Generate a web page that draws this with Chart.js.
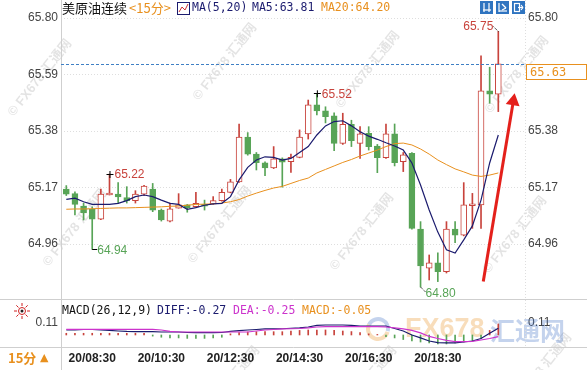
<!DOCTYPE html>
<html>
<head>
<meta charset="utf-8">
<script src="https://cdn.jsdelivr.net/npm/chart.js@4.4.0/dist/chart.umd.min.js"></script>
<style>
  html, body { margin: 0; padding: 0; background: #fff; }
  #wrap { width: 587px; height: 370px; position: relative; }
</style>
</head>
<body>
<div id="wrap"><canvas id="kline" width="587" height="370"></canvas></div>
<script>
// 15 minute bars
var times = ['20/07:45','20/08:00','20/08:15','20/08:30','20/08:45','20/09:00','20/09:15','20/09:30','20/09:45','20/10:00',
  '20/10:15','20/10:30','20/10:45','20/11:00','20/11:15','20/11:30','20/11:45','20/12:00','20/12:15','20/12:30',
  '20/12:45','20/13:00','20/13:15','20/13:30','20/13:45','20/14:00','20/14:15','20/14:30','20/14:45','20/15:00',
  '20/15:15','20/15:30','20/15:45','20/16:00','20/16:15','20/16:30','20/16:45','20/17:00','20/17:15','20/17:30',
  '20/17:45','20/18:00','20/18:15','20/18:30','20/18:45','20/19:00','20/19:15','20/19:30','20/19:45','20/20:00','20/20:15'];
var opens = [65.164,65.147,65.101,65.089,65.052,65.142,65.145,65.132,65.121,65.145,
  65.164,65.086,65.045,65.093,65.105,65.099,65.106,65.109,65.121,65.152,
  65.191,65.357,65.294,65.262,65.243,65.276,65.266,65.282,65.369,65.477,
  65.455,65.436,65.334,65.405,65.334,65.371,65.324,65.281,65.369,65.266,
  65.297,65.015,64.870,64.890,64.857,65.015,64.993,65.102,65.105,65.529,65.517];
var highs = [65.177,65.154,65.112,65.098,65.164,65.220,65.188,65.173,65.158,65.178,
  65.185,65.090,65.112,65.147,65.107,65.152,65.123,65.136,65.164,65.200,
  65.406,65.374,65.300,65.265,65.322,65.280,65.294,65.384,65.495,65.520,
  65.470,65.447,65.446,65.420,65.396,65.396,65.330,65.406,65.406,65.300,
  65.300,65.043,64.919,64.927,65.043,65.043,65.188,65.148,65.659,65.617,65.750];
var lows = [65.140,65.068,65.049,64.940,65.050,65.142,65.112,65.112,65.112,65.140,
  65.080,65.045,65.042,65.093,65.078,65.097,65.086,65.107,65.119,65.150,
  65.189,65.290,65.235,65.214,65.240,65.171,65.226,65.280,65.350,65.440,
  65.410,65.307,65.330,65.322,65.278,65.309,65.225,65.278,65.250,65.229,
  65.015,64.800,64.826,64.820,64.852,64.965,64.990,65.018,65.018,65.483,65.452];
var closes = [65.145,65.107,65.075,65.052,65.145,65.147,65.135,65.121,65.145,65.175,
  65.086,65.049,65.091,65.105,65.095,65.111,65.100,65.121,65.152,65.191,
  65.357,65.294,65.262,65.243,65.276,65.264,65.282,65.357,65.477,65.455,
  65.433,65.334,65.405,65.344,65.369,65.322,65.281,65.369,65.262,65.291,
  65.018,64.878,64.890,64.857,65.015,64.993,65.105,65.105,65.529,65.517,65.630];
var ma5 = [65.126,65.130,65.117,65.107,65.107,65.107,65.111,65.121,65.136,65.142,
  65.136,65.123,65.111,65.107,65.089,65.095,65.104,65.109,65.111,65.136,
  65.198,65.245,65.272,65.284,65.282,65.272,65.278,65.300,65.322,65.365,
  65.399,65.415,65.418,65.399,65.377,65.361,65.349,65.336,65.324,65.309,
  65.261,65.179,65.086,65.004,64.938,64.926,64.975,65.027,65.123,65.261,65.365];
var ma20 = [65.089,65.090,65.090,65.091,65.092,65.093,65.094,65.094,65.095,65.096,
  65.097,65.098,65.100,65.101,65.104,65.107,65.108,65.109,65.112,65.117,
  65.125,65.138,65.149,65.159,65.168,65.174,65.185,65.196,65.205,65.224,
  65.237,65.250,65.263,65.274,65.287,65.298,65.309,65.322,65.333,65.335,
  65.328,65.313,65.294,65.272,65.255,65.239,65.228,65.216,65.211,65.216,65.224];
var diff = [0.044,0.044,0.048,0.048,0.044,0.040,0.035,0.031,0.029,0.029,
  0.029,0.026,0.026,0.026,0.022,0.020,0.020,0.020,0.022,0.031,
  0.038,0.044,0.048,0.053,0.053,0.055,0.059,0.062,0.070,0.084,
  0.088,0.088,0.088,0.084,0.079,0.079,0.079,0.079,0.057,0.035,
  0.000,-0.026,-0.053,-0.068,-0.070,-0.070,-0.062,-0.053,-0.031,0.015,0.059];
var dea = [0.050,0.050,0.050,0.050,0.050,0.050,0.050,0.050,0.050,0.050,
  0.050,0.044,0.031,0.026,0.026,0.026,0.026,0.026,0.026,0.026,
  0.026,0.026,0.035,0.044,0.048,0.053,0.055,0.057,0.062,0.070,
  0.073,0.073,0.073,0.073,0.073,0.073,0.073,0.070,0.062,0.053,
  0.040,0.018,-0.013,-0.031,-0.048,-0.059,-0.059,-0.057,-0.044,-0.031,-0.015];
var macdHist = [0.015,0.015,0.015,0.015,0.015,0.015,0.015,0.015,0.015,0.015,
  -0.010,-0.020,-0.026,-0.026,-0.030,-0.030,-0.030,-0.026,-0.020,0.010,
  0.020,0.026,0.029,0.029,0.029,0.029,0.035,0.040,0.044,0.044,
  0.044,0.040,0.035,0.030,0.020,0.010,0.005,-0.015,-0.026,-0.040,
  -0.053,-0.062,-0.070,-0.079,-0.079,-0.070,-0.062,-0.050,-0.030,0.040,0.097];

var priceTicks = [64.96, 65.17, 65.38, 65.59, 65.80];
var macdTicks = [0.11];
var timeTicks = ['20/08:30','20/10:30','20/12:30','20/14:30','20/16:30','20/18:30'];
var lastPrice = 65.63;
// high / low notes: candle index, price, text
var notes = [
  {i: 50, p: 65.75, text: '65.75', kind: 'hi', side: 'left'},
  {i: 29, p: 65.52, text: '65.52', kind: 'hi', side: 'right'},
  {i: 5,  p: 65.22, text: '65.22', kind: 'hi', side: 'right'},
  {i: 3,  p: 64.94, text: '64.94', kind: 'lo', side: 'right'},
  {i: 41, p: 64.80, text: '64.80', kind: 'lo', side: 'diag'}
];
var arrowFrom = [48.26, 64.82];
var arrowTo = [51.89, 65.52];
// watermark centres (page pixels)
var stamps = [[40, 78], [225, 62], [368, 70], [517, 75], [75, 228], [220, 225], [362, 232], [515, 235],
  [228, 385], [365, 385], [540, 372]];

var RED = '#c8433c';
var GREEN = '#58a457';
var NAVY = '#1b1b6e';
var ORANGE = '#e8901e';
var MAGENTA = '#cc33cc';

var up = closes.map((c, i) => c >= opens[i]);

function hline(ctx, x0, y0, x1, y1) {
  ctx.beginPath(); ctx.moveTo(x0, y0); ctx.lineTo(x1, y1); ctx.stroke();
}

var decor = {
  id: 'decor',
  beforeDatasetsDraw(chart) {
    var ctx = chart.ctx, a = chart.chartArea, sy = chart.scales.y;
    ctx.save();
    // watermarks
    ctx.textAlign = 'center'; ctx.textBaseline = 'middle';
    ctx.font = 'bold 13px "Liberation Sans", "Noto Sans CJK SC"';
    ctx.fillStyle = 'rgba(0,0,0,0.11)';
    stamps.forEach(s => {
      ctx.save();
      ctx.translate(s[0], s[1]);
      ctx.rotate(-0.9);
      ctx.fillText('© FX678 汇通网', 0, 0);
      ctx.restore();
    });
    // big logo in macd panel
    ctx.globalAlpha = 0.3;
    ctx.lineWidth = 4;
    ctx.strokeStyle = ORANGE;
    ctx.beginPath(); ctx.arc(378, 329, 10, 0.3, 3.6); ctx.stroke();
    ctx.strokeStyle = '#3b6cc4';
    ctx.beginPath(); ctx.arc(378, 329, 10, 3.6, 6.5); ctx.stroke();
    ctx.textAlign = 'left';
    ctx.font = 'bold 27px "Liberation Sans"';
    ctx.fillStyle = ORANGE;
    ctx.fillText('FX678', 405, 330);
    ctx.font = 'bold 25px "Noto Sans CJK SC"';
    ctx.fillStyle = '#3b6cc4';
    ctx.fillText('汇通网', 490, 330);
    ctx.globalAlpha = 1;

    ctx.strokeStyle = '#dedede';
    ctx.lineWidth = 1;
    ctx.setLineDash([1, 2]);
    priceTicks.forEach(p => {
      var y = Math.round(sy.getPixelForValue(p)) + 0.5;
      hline(ctx, a.left, y, a.right, y);
    });
    hline(ctx, a.right + 0.5, 0, a.right + 0.5, 347);
    ctx.setLineDash([]);
    ctx.strokeStyle = '#cfcfcf';
    hline(ctx, 61.5, 0, 61.5, 370);
    hline(ctx, 0, 299.5, 587, 299.5);
    hline(ctx, 0, 347.5, 587, 347.5);
    ctx.restore();
  },
  afterDraw(chart) {
    var ctx = chart.ctx, a = chart.chartArea;
    var sx = chart.scales.x, sy = chart.scales.y;
    ctx.save();
    ctx.textBaseline = 'middle';

    // header
    ctx.font = '13px "Noto Sans CJK SC"';
    ctx.fillStyle = '#111';
    ctx.fillText('美原油连续', 62, 8);
    ctx.fillStyle = ORANGE;
    ctx.fillText('<15分>', 129, 8);
    ctx.strokeStyle = NAVY; ctx.lineWidth = 1;
    ctx.strokeRect(177.5, 2.5, 12, 12);
    ctx.strokeStyle = '#d03030';
    ctx.beginPath(); ctx.moveTo(179, 12); ctx.lineTo(182, 7); ctx.lineTo(185, 10); ctx.lineTo(188, 4); ctx.stroke();
    ctx.font = '11.5px "DejaVu Sans Mono"';
    ctx.fillStyle = NAVY;
    ctx.fillText('MA(5,20)', 192, 8);
    ctx.fillText('MA5:63.81', 252, 8);
    ctx.fillStyle = ORANGE;
    ctx.fillText('MA20:64.20', 321, 8);

    // top right tool icons
    [480, 496, 512].forEach((x, k) => {
      ctx.fillStyle = '#2f74c0';
      ctx.fillRect(x, 1, 13, 13);
      ctx.strokeStyle = '#fff'; ctx.lineWidth = 1.2;
      if (k === 0) { hline(ctx, x + 4, 3, x + 4, 12); hline(ctx, x + 9, 3, x + 9, 12); hline(ctx, x + 3, 10, x + 11, 10); }
      if (k === 1) { hline(ctx, x + 3, 3, x + 3, 12); hline(ctx, x + 3, 11, x + 11, 11); hline(ctx, x + 6, 4, x + 10, 8); hline(ctx, x + 6, 10, x + 10, 8); }
      if (k === 2) { ctx.strokeRect(x + 2.5, 3.5, 5, 8); hline(ctx, x + 6, 7.5, x + 11, 7.5); hline(ctx, x + 9, 5, x + 11, 7.5); hline(ctx, x + 9, 10, x + 11, 7.5); }
    });

    // last price line and box
    var yp = Math.round(sy.getPixelForValue(lastPrice)) + 0.5;
    ctx.strokeStyle = '#3f7fc4'; ctx.lineWidth = 1; ctx.setLineDash([3, 2]);
    hline(ctx, a.left, yp, a.right, yp);
    ctx.setLineDash([]);
    ctx.fillStyle = '#fff';
    ctx.fillRect(a.right + 1, yp, 61, 15);
    ctx.strokeStyle = ORANGE;
    ctx.strokeRect(a.right + 1.5, yp, 60, 15);
    ctx.fillStyle = ORANGE;
    ctx.font = '12px "DejaVu Sans Mono"';
    ctx.fillText(lastPrice.toFixed(2), a.right + 5, yp + 8);

    // high / low notes
    ctx.font = '12px "Liberation Sans"';
    notes.forEach(n => {
      var x = sx.getPixelForValue(n.i), y = sy.getPixelForValue(n.p);
      ctx.strokeStyle = '#000'; ctx.lineWidth = 1;
      ctx.fillStyle = n.kind === 'hi' ? RED : GREEN;
      if (n.side === 'left') {
        ctx.setLineDash([1, 1]);
        hline(ctx, x, y, x - 5, y - 5);
        ctx.setLineDash([]);
        ctx.textAlign = 'right';
        ctx.fillText(n.text, x - 5, y - 5);
      } else if (n.side === 'diag') {
        ctx.setLineDash([1, 1]);
        hline(ctx, x, y, x + 5, y + 5);
        ctx.setLineDash([]);
        ctx.textAlign = 'left';
        ctx.fillText(n.text, x + 5, y + 7);
      } else {
        if (n.kind === 'hi') {
          hline(ctx, x - 3, Math.round(y) + 0.5, x + 4, Math.round(y) + 0.5);
          hline(ctx, x + 0.5, y - 3, x + 0.5, y + 4);
        } else {
          hline(ctx, x, Math.round(y) + 0.5, x + 5, Math.round(y) + 0.5);
        }
        ctx.textAlign = 'left';
        ctx.fillText(n.text, x + 5, y + 1);
      }
    });
    ctx.textAlign = 'left';

    // red arrow
    var x0 = sx.getPixelForValue(arrowFrom[0]), y0 = sy.getPixelForValue(arrowFrom[1]);
    var x1 = sx.getPixelForValue(arrowTo[0]), y1 = sy.getPixelForValue(arrowTo[1]);
    var len = Math.hypot(x1 - x0, y1 - y0), ux = (x1 - x0) / len, uy = (y1 - y0) / len;
    var bx = x1 - ux * 12, by = y1 - uy * 12;
    ctx.strokeStyle = '#e4201b'; ctx.lineWidth = 3;
    hline(ctx, x0, y0, bx + ux * 2, by + uy * 2);
    ctx.fillStyle = '#e4201b';
    ctx.beginPath();
    ctx.moveTo(x1, y1);
    ctx.lineTo(bx - uy * 7, by + ux * 7);
    ctx.lineTo(bx + uy * 7, by - ux * 7);
    ctx.closePath(); ctx.fill();

    // macd caption
    ctx.strokeStyle = '#d02020'; ctx.lineWidth = 1;
    for (var k = 0; k < 8; k++) {
      var ang = k * Math.PI / 4;
      hline(ctx, 22 + Math.cos(ang) * 5, 311 + Math.sin(ang) * 5, 22 + Math.cos(ang) * 8, 311 + Math.sin(ang) * 8);
    }
    ctx.beginPath(); ctx.arc(22, 311, 3.5, 0, Math.PI * 2); ctx.stroke();
    ctx.fillStyle = '#222'; ctx.beginPath(); ctx.arc(22, 311, 1.5, 0, Math.PI * 2); ctx.fill();
    ctx.font = '11.5px "DejaVu Sans Mono"';
    ctx.fillStyle = '#111'; ctx.fillText('MACD(26,12,9)', 62, 311);
    ctx.fillStyle = NAVY; ctx.fillText('DIFF:-0.27', 157, 311);
    ctx.fillStyle = MAGENTA; ctx.fillText('DEA:-0.25', 233, 311);
    ctx.fillStyle = ORANGE; ctx.fillText('MACD:-0.05', 302, 311);

    // bottom left period
    ctx.font = 'bold 13px "Noto Sans CJK SC"';
    ctx.fillStyle = ORANGE;
    ctx.fillText('15分', 8, 358);
    ctx.font = '11px "DejaVu Sans"';
    ctx.fillText('▲', 40, 358);
    ctx.restore();
  }
};

var fixW = w => (s => { s.width = w; });
var setTicks = list => (s => { s.ticks = list.map(v => ({value: v})); });
var noGrid = {display: false, drawTicks: false, tickLength: 0};

var mainY = {
  stackWeight: 278, min: 64.7665, max: 65.80,
  grid: noGrid, border: {display: false},
  afterBuildTicks: setTicks(priceTicks),
  ticks: {padding: 3, color: '#444', font: {family: 'Liberation Sans', size: 12}, callback: v => v.toFixed(2)}
};
var macdY = {
  stackWeight: 50, min: -0.097, max: 0.343,
  grid: noGrid, border: {display: false},
  afterBuildTicks: setTicks(macdTicks),
  ticks: {padding: 3, color: '#444', font: {family: 'Liberation Sans', size: 12}, callback: v => v.toFixed(2)}
};

new Chart(document.getElementById('kline'), {
  type: 'bar',
  data: {
    datasets: [
      {
        label: 'wick', yAxisID: 'y', order: 5, grouped: false, barThickness: 1,
        data: times.map((t, i) => ({x: i, y: [lows[i], highs[i]]})),
        backgroundColor: up.map(u => u ? RED : GREEN)
      },
      {
        label: 'body', yAxisID: 'y', order: 4, grouped: false, barThickness: 6, minBarLength: 2,
        data: times.map((t, i) => ({x: i, y: [opens[i], closes[i]]})),
        backgroundColor: up.map(u => u ? '#fff' : GREEN),
        borderColor: up.map(u => u ? RED : GREEN),
        borderWidth: 1, borderSkipped: false
      },
      {
        type: 'line', label: 'MA20', yAxisID: 'y', order: 2,
        data: ma20.map((v, i) => ({x: i, y: v})),
        borderColor: ORANGE, borderWidth: 1, pointRadius: 0, tension: 0
      },
      {
        type: 'line', label: 'MA5', yAxisID: 'y', order: 1,
        data: ma5.map((v, i) => ({x: i, y: v})),
        borderColor: NAVY, borderWidth: 1.2, pointRadius: 0, tension: 0
      },
      {
        label: 'MACD', yAxisID: 'y2', order: 3, grouped: false, barThickness: 1,
        data: macdHist.map((v, i) => ({x: i, y: v})),
        backgroundColor: macdHist.map(v => v >= 0 ? RED : GREEN)
      },
      {
        type: 'line', label: 'DEA', yAxisID: 'y2', order: 1,
        data: dea.map((v, i) => ({x: i, y: v})),
        borderColor: MAGENTA, borderWidth: 1.2, pointRadius: 0, tension: 0
      },
      {
        type: 'line', label: 'DIFF', yAxisID: 'y2', order: 1,
        data: diff.map((v, i) => ({x: i, y: v})),
        borderColor: NAVY, borderWidth: 1.2, pointRadius: 0, tension: 0
      }
    ]
  },
  options: {
    responsive: false,
    animation: false,
    layout: {padding: {top: 18, left: 0, right: 0, bottom: 0}},
    plugins: {legend: {display: false}, tooltip: {enabled: false}},
    scales: {
      x: {
        type: 'linear', min: -0.613, max: 53.09, offset: false,
        grid: Object.assign({offset: false}, noGrid), border: {display: false},
        afterBuildTicks: s => { s.ticks = timeTicks.map(t => ({value: times.indexOf(t)})); },
        afterFit: s => { s.height = 24; },
        ticks: {autoSkip: false, maxRotation: 0, padding: 5, color: '#222',
          font: {family: 'Liberation Sans', size: 12, weight: 'bold'},
          callback: v => times[v]}
      },
      // left stack is laid out in reverse order, so the macd axis comes first
      y2: Object.assign({position: 'left', stack: 'L', afterFit: fixW(61)}, macdY),
      y: Object.assign({position: 'left', stack: 'L', afterFit: fixW(61)}, mainY),
      yR: Object.assign({position: 'right', stack: 'R', afterFit: fixW(62)}, mainY),
      y2R: Object.assign({position: 'right', stack: 'R', afterFit: fixW(62)}, macdY)
    }
  },
  plugins: [decor]
});
</script>
</body>
</html>
